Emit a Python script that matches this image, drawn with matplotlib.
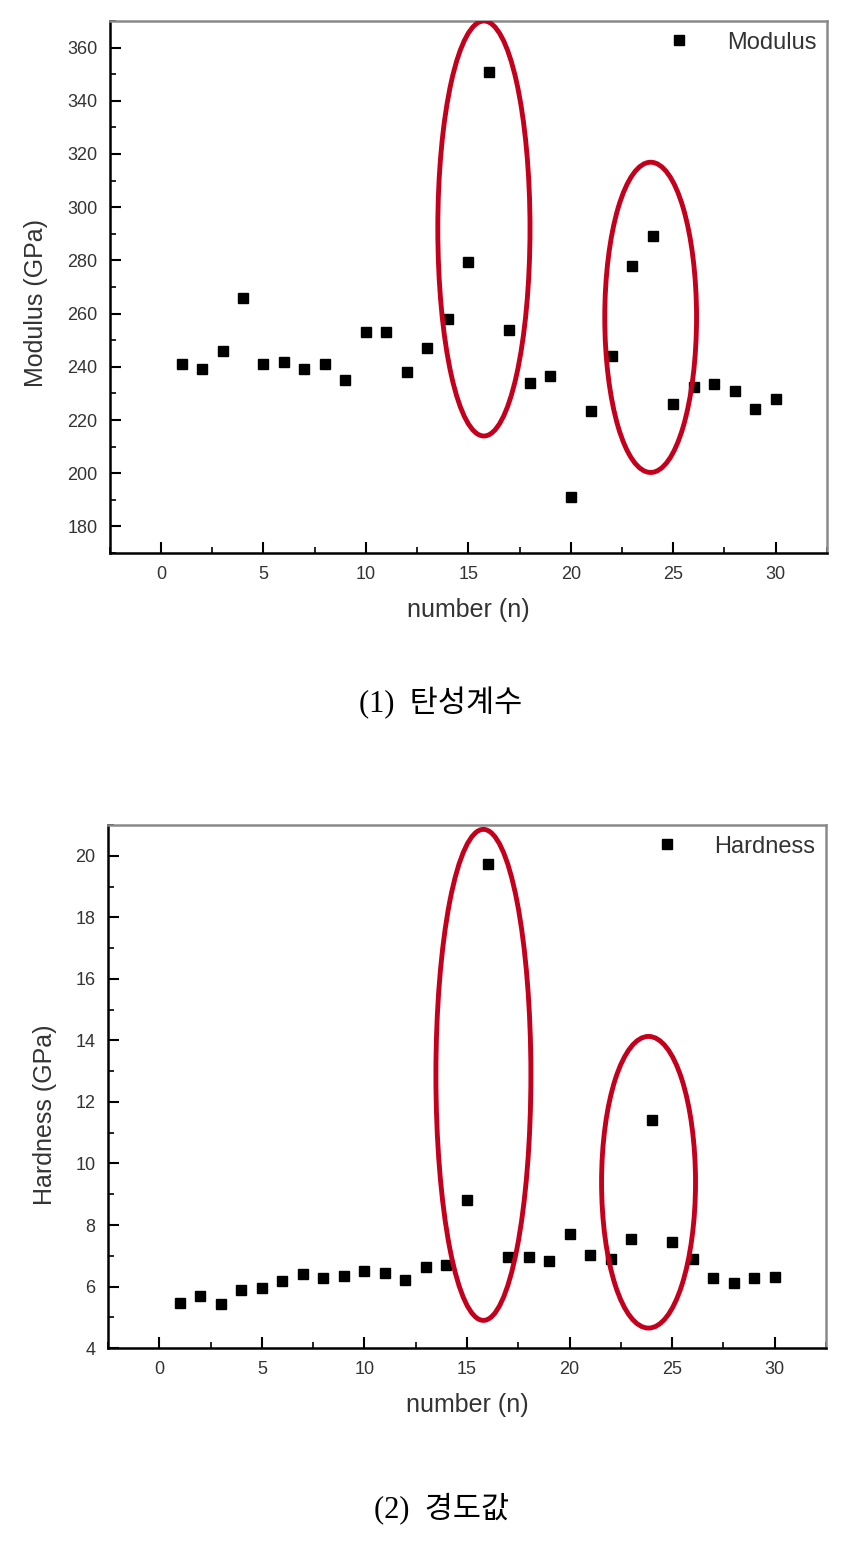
import numpy as np
import matplotlib
matplotlib.use('Agg')
import matplotlib.pyplot as plt
from matplotlib.patches import Ellipse
from matplotlib.ticker import MultipleLocator

plt.rcParams['font.family'] = ['Liberation Sans', 'Noto Sans CJK KR']

# data
n = np.arange(1, 31)
modulus = [241, 239, 246, 266, 241, 242, 239, 241, 235, 253,
           253, 238, 247, 258, 279.5, 351, 254, 234, 236.5, 191,
           223.5, 244, 278, 289, 226, 232.5, 233.5, 231, 224, 228]
hardness = [5.46, 5.68, 5.42, 5.9, 5.94, 6.17, 6.4, 6.27, 6.33, 6.5,
            6.43, 6.2, 6.65, 6.69, 8.82, 19.73, 6.95, 6.95, 6.82, 7.7,
            7.04, 6.88, 7.56, 11.4, 7.46, 6.9, 6.27, 6.1, 6.27, 6.3]

# highlight ellipses: (center x, center y, width, height)
mod_circles = [(15.76, 292, 4.5, 156), (23.9, 258.6, 4.48, 116.6)]
hard_circles = [(15.8, 12.88, 4.63, 15.96), (23.85, 9.39, 4.58, 9.48)]

red = '#c4001c'
txt = '#333333'

fig = plt.figure(figsize=(8.45, 15.41), dpi=100)
ax1 = fig.add_axes([0.130, 0.6411, 0.8485, 0.3453])
ax2 = fig.add_axes([0.1278, 0.1252, 0.8497, 0.3394])


def style_axes(ax, ylim, ymajor, yminor):
    ax.set_xlim(-2.5, 32.5)
    ax.set_ylim(*ylim)
    ax.xaxis.set_major_locator(MultipleLocator(5))
    ax.xaxis.set_minor_locator(MultipleLocator(2.5))
    ax.yaxis.set_major_locator(MultipleLocator(ymajor))
    ax.yaxis.set_minor_locator(MultipleLocator(yminor))
    ax.tick_params(which='both', direction='in', top=False, right=False,
                   colors='black', labelcolor=txt, labelsize=13)
    ax.tick_params(which='major', length=8, width=1.5, pad=9)
    ax.tick_params(which='minor', length=4, width=1.2)
    for s in ['left', 'bottom']:
        ax.spines[s].set_linewidth(1.8)
        ax.spines[s].set_color('black')
    for s in ['top', 'right']:
        ax.spines[s].set_linewidth(1.8)
        ax.spines[s].set_color('#8a8a8a')


style_axes(ax1, (170, 370), 20, 10)
ax1.set_yticks(np.arange(180, 361, 20))
ax1.plot(n, modulus, 's', color='black', markersize=7.5, linestyle='none', label='Modulus')
for cx, cy, w, h in mod_circles:
    ax1.add_patch(Ellipse((cx, cy), w, h, fill=False, edgecolor=red, linewidth=3.5, zorder=3))
ax1.set_ylabel('Modulus (GPa)', fontsize=18, color=txt)
ax1.yaxis.set_label_coords(-0.086, 0.47)
ax1.set_xlabel('number (n)', fontsize=18, color=txt)
ax1.xaxis.set_label_coords(0.5, -0.085)
ax1.legend(loc='upper right', frameon=False, fontsize=17, handlelength=0.8,
           handletextpad=1.6, borderaxespad=0.05, labelcolor=txt)

style_axes(ax2, (4, 21), 2, 1)
ax2.set_yticks(np.arange(4, 21, 2))
ax2.plot(n, hardness, 's', color='black', markersize=7.5, linestyle='none', label='Hardness')
for cx, cy, w, h in hard_circles:
    ax2.add_patch(Ellipse((cx, cy), w, h, fill=False, edgecolor=red, linewidth=3.5, zorder=3))
ax2.set_ylabel('Hardness (GPa)', fontsize=18, color=txt)
ax2.yaxis.set_label_coords(-0.071, 0.447)
ax2.set_xlabel('number (n)', fontsize=18, color=txt)
ax2.xaxis.set_label_coords(0.5, -0.085)
ax2.legend(loc='upper right', frameon=False, fontsize=17, handlelength=0.8,
           handletextpad=1.6, borderaxespad=0.05, labelcolor=txt)

cap_font = ['Liberation Serif', 'Noto Sans CJK KR']
fig.text(441 / 845, 1 - 703 / 1541, '(1)  탄성계수', family=cap_font, fontsize=22,
         ha='center', va='center', color='black')
fig.text(442 / 845, 1 - 1508 / 1541, '(2)  경도값', family=cap_font, fontsize=22,
         ha='center', va='center', color='black')

fig.savefig('out.png', dpi=100)
